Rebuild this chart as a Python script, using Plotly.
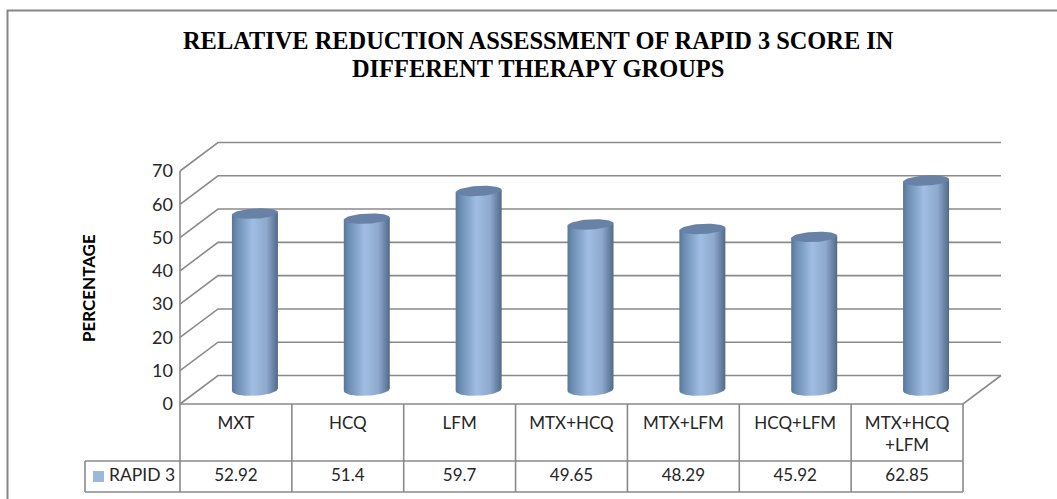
import numpy as np
import plotly.graph_objects as go

categories = ["MXT", "HCQ", "LFM", "MTX+HCQ", "MTX+LFM", "HCQ+LFM", "MTX+HCQ<br>+LFM"]
table_values = ["52.92", "51.4", "59.7", "49.65", "48.29", "45.92", "62.85"]
rapid3 = [52.92, 51.4, 59.7, 49.65, 48.29, 45.92, 62.85]
y_ticks = [0, 10, 20, 30, 40, 50, 60, 70]
series_name = "RAPID 3"
title_lines = ["RELATIVE REDUCTION ASSESSMENT OF RAPID 3 SCORE IN", "DIFFERENT THERAPY GROUPS"]
y_title = "PERCENTAGE"

W, H = 1057, 499
X0, Y0 = 180.0, 404.0
PX_CAT = (963 - 180) / 7
PX_VAL = 233 / 70
DEPTH_X = 38 / PX_CAT
DEPTH_Y = 28.5 / PX_VAL
GRID = "#8a8a8a"
FONT = "Lato"
TEXT = "#262626"

x_range = [-X0 / PX_CAT, (W - X0) / PX_CAT]
y_range = [(Y0 - H) / PX_VAL, Y0 / PX_VAL]
n = len(categories)

fig = go.Figure()


def line(xs, ys, color=GRID, width=1.6):
    fig.add_trace(go.Scatter(x=xs, y=ys, mode="lines", line=dict(color=color, width=width),
                             hoverinfo="skip", showlegend=False))


# Walls and gridlines
for t in y_ticks:
    line([0, DEPTH_X, n + DEPTH_X], [t, t + DEPTH_Y, t + DEPTH_Y])
line([0, 0], [0, 70])
line([0, n, n + DEPTH_X], [0, 0, DEPTH_Y])

# Cylinders
RX = 23 / PX_CAT
RY = 6 / PX_VAL
TILT = 0.2 * RY
theta = np.linspace(0, np.pi, 40)
shade = [[0, "#587799"], [0.12, "#6f8fb5"], [0.45, "#a0bde3"], [0.75, "#8ea9cc"], [1, "#516a89"]]
for i, v in enumerate(rapid3):
    cx = i + 0.5 + DEPTH_X * 0.5
    base = DEPTH_Y * 0.5
    c = np.cos(theta)
    xs = np.concatenate([cx - RX * c, cx + RX * c])
    ys = np.concatenate([base - RY * np.sin(theta) - TILT * c,
                         base + v + TILT * c])
    fig.add_trace(go.Scatter(x=xs, y=ys, mode="lines", fill="toself", line=dict(width=0),
                             fillgradient=dict(type="horizontal", colorscale=shade),
                             hoverinfo="skip", showlegend=False))
    phi = np.linspace(0, 2 * np.pi, 60)
    ey = RY * 0.85 * np.sin(phi) + TILT * np.cos(phi)
    fig.add_trace(go.Scatter(x=cx + RX * np.cos(phi), y=base + v + ey, mode="lines", fill="toself",
                             line=dict(width=0), fillcolor="#6782a6",
                             hoverinfo="skip", showlegend=False))

# Data table
ROW1 = -57 / PX_VAL
ROW2 = -88 / PX_VAL
LEG_X = (85 - X0) / PX_CAT
line([0, 0], [0, ROW2])
line([LEG_X, LEG_X], [ROW1, ROW2])
line([LEG_X, n], [ROW1, ROW1])
line([LEG_X, n], [ROW2, ROW2])
for i in range(1, n + 1):
    line([i, i], [0, ROW2])

fig.add_trace(go.Scatter(x=[i + 0.5 for i in range(n)], y=[-12 / PX_VAL] * n, mode="text",
                         text=categories, textposition="bottom center",
                         textfont=dict(family=FONT, size=17, color=TEXT),
                         hoverinfo="skip", showlegend=False, cliponaxis=False))
fig.add_trace(go.Scatter(x=[i + 0.5 for i in range(n)], y=[-72.5 / PX_VAL] * n, mode="text",
                         text=table_values, textposition="middle center",
                         textfont=dict(family=FONT, size=17, color=TEXT),
                         hoverinfo="skip", showlegend=False))
fig.add_trace(go.Scatter(x=[(98.5 - X0) / PX_CAT], y=[-72.5 / PX_VAL], mode="markers",
                         marker=dict(symbol="square", size=11, color="#9bb7dc"),
                         hoverinfo="skip", showlegend=False))
fig.add_trace(go.Scatter(x=[(109 - X0) / PX_CAT], y=[-72.5 / PX_VAL], mode="text",
                         text=[series_name], textposition="middle right",
                         textfont=dict(family=FONT, size=17.5, color=TEXT),
                         hoverinfo="skip", showlegend=False))

title_ann = [dict(text="<b>" + s + "</b>", xref="paper", yref="paper", x=538 / W, y=1 - yy / H,
                  xanchor="center", yanchor="middle", showarrow=False,
                  font=dict(family="Liberation Serif", size=24.4, color="#000000"))
             for s, yy in zip(title_lines, [41, 68])]

fig.update_layout(
    width=W, height=H, autosize=False, margin=dict(l=0, r=0, t=0, b=0),
    paper_bgcolor="white", plot_bgcolor="white", showlegend=False,
    xaxis=dict(range=x_range, visible=False, domain=[0, 1], fixedrange=True),
    yaxis=dict(range=y_range, domain=[0, 1], anchor="free", position=X0 / W,
               tickvals=y_ticks, ticks="", showgrid=False, zeroline=False, showline=False,
               tickfont=dict(family=FONT, size=18, color=TEXT), ticklabelstandoff=7, fixedrange=True),
    shapes=[dict(type="rect", xref="paper", yref="paper", x0=7.5 / W, x1=1.02,
                 y0=-0.02, y1=1 - 10.5 / H, line=dict(color="#868686", width=2))],
    annotations=title_ann + [
        dict(text="<b>" + y_title + "</b>", xref="paper", yref="paper", x=88 / W, y=1 - 288 / H,
             xanchor="center", yanchor="middle", textangle=-90, showarrow=False,
             font=dict(family=FONT, size=17, color="#000000")),
    ],
)
fig.write_html("out.html", config={"displayModeBar": False},
               post_script="document.body.style.margin='0';document.body.style.overflow='hidden';")
